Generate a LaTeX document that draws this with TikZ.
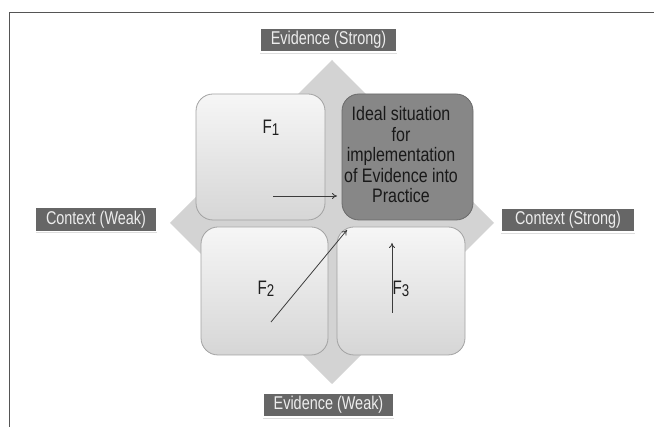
\documentclass[tikz,border=0pt]{standalone}
\usepackage{fontspec}
\setmainfont{Liberation Sans}[FakeStretch=0.82]
\newfontfamily\tagfont{Liberation Sans}[FakeStretch=0.78]
\usetikzlibrary{shadows,arrows.meta}

\definecolor{framegray}{HTML}{555555}
\definecolor{diamondgray}{HTML}{D3D3D3}
\definecolor{boxtop}{HTML}{F6F6F6}
\definecolor{boxbottom}{HTML}{D6D6D6}
\definecolor{boxedge}{HTML}{A2A2A2}
\definecolor{idealfill}{HTML}{878787}
\definecolor{idealedge}{HTML}{6A6A6A}
\definecolor{tagfill}{HTML}{666666}
\definecolor{tagtext}{HTML}{EDEDED}
\definecolor{arrowgray}{HTML}{3C3C3C}

\tikzset{
  quadbox/.style={draw=boxedge, line width=0.8pt, rounded corners=17pt,
    top color=boxtop, bottom color=boxbottom, inner sep=0pt},
  idealbox/.style={draw=idealedge, line width=0.8pt, rounded corners=17pt,
    fill=idealfill, inner sep=0pt},
  axistag/.style={fill=tagfill, draw=white, line width=1.2pt, text=tagtext,
    inner sep=0pt, minimum height=24pt, align=center,
    font=\tagfont\fontsize{18.5}{20}\selectfont,
    drop shadow={shadow xshift=0pt, shadow yshift=-1.8pt, fill=black!22, opacity=0.6}},
  flabel/.style={font=\tagfont\fontsize{19.5}{20}\selectfont, inner sep=0pt, text=black!88},
  movearrow/.style={draw=arrowgray, line width=0.8pt, -{To[length=5pt,width=6pt]}},
}

\newcommand{\fsub}[1]{F\raisebox{-2.5pt}{\fontsize{17}{16}\selectfont #1}}

\begin{document}
\begin{tikzpicture}[x=1pt,y=-1pt]
  \useasboundingbox (0,0) rectangle (654,427);

  % page frame (open to the right and bottom)
  \draw[framegray, line width=1.3pt] (9.5,427) -- (9.5,12.5) -- (654,12.5);

  % background diamond
  \fill[diamondgray] (332,60) -- (494,223) -- (332,384) -- (170,223) -- cycle;

  % quadrant boxes
  \node[quadbox, minimum width=129pt, minimum height=126pt] (f1box) at (260.5,157) {};
  \node[idealbox, minimum width=131pt, minimum height=126pt] (ideal) at (407.5,157) {};
  \node[quadbox, minimum width=127pt, minimum height=128pt] (f2box) at (264.5,291) {};
  \node[quadbox, minimum width=128pt, minimum height=128pt] (f3box) at (401,291) {};

  % box texts
  \node[flabel] (f1) at (271,128) {\fsub{1}};
  \node[flabel] (f2) at (266,289) {\fsub{2}};
  \node[flabel] (f3) at (401,289) {\fsub{3}};
  \node[align=center, inner sep=0pt, text=black!90,
        font=\fontsize{19.5}{20.5}\selectfont] (idealtext) at (401,155)
        {Ideal situation\\for\\implementation\\of Evidence into\\Practice};

  % axis tags
  \node[axistag, minimum width=137pt] (evstrong) at (328.5,40) {Evidence (Strong)};
  \node[axistag, minimum width=131pt] (evweak) at (328.5,405) {Evidence (Weak)};
  \node[axistag, minimum width=121pt] (ctxweak) at (96,219.5) {Context (Weak)};
  \node[axistag, minimum width=134pt] (ctxstrong) at (568,220) {Context (Strong)};

  % movement arrows towards the ideal quadrant
  \coordinate (a1s) at (273,196);
  \coordinate (a1e) at (337,196);
  \coordinate (a2s) at (271,322);
  \coordinate (a2e) at (347,230);
  \coordinate (a3s) at (392,313);
  \coordinate (a3e) at (392,243);
  \draw[movearrow] (a1s) -- (a1e);
  \draw[movearrow] (a2s) -- (a2e);
  \draw[movearrow] (a3s) -- (a3e);
\end{tikzpicture}
\end{document}
